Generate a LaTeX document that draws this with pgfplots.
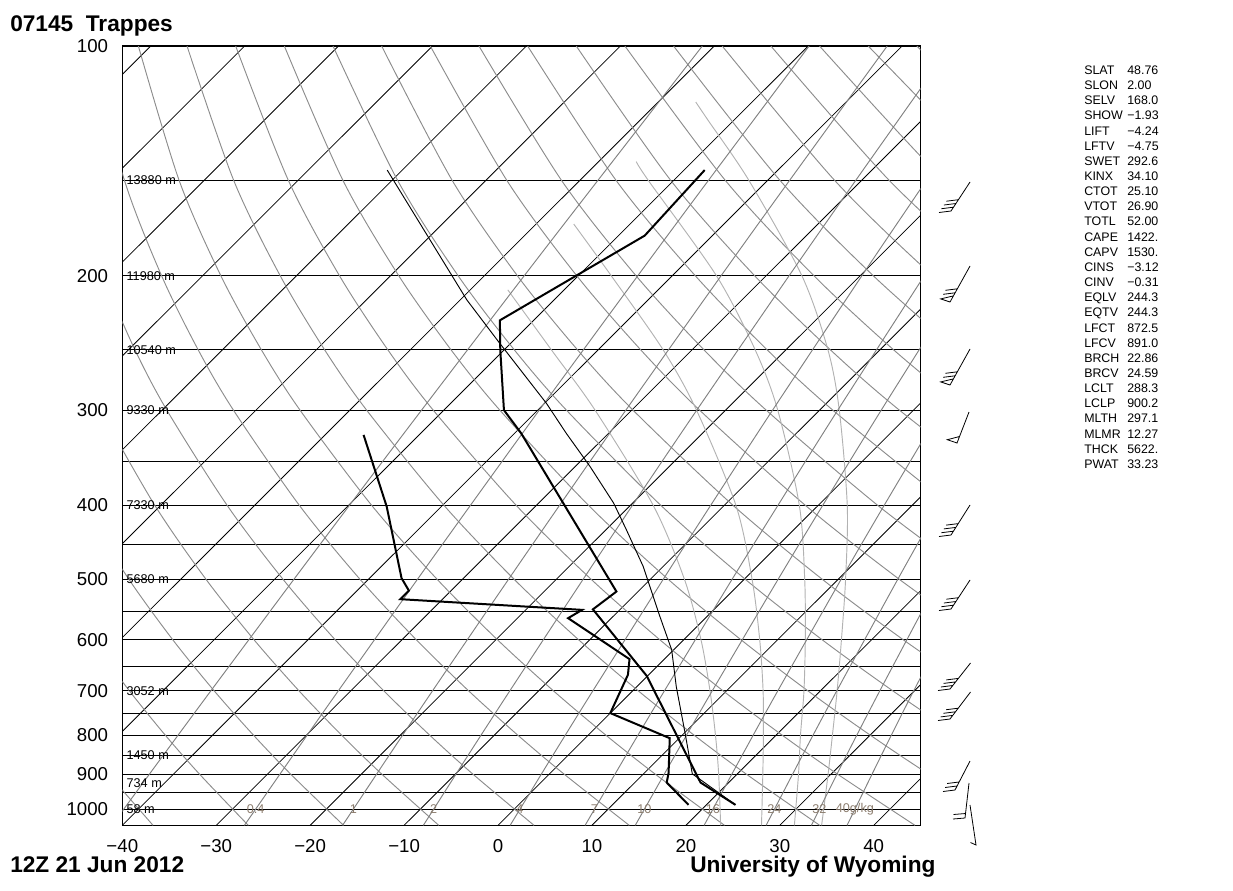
\documentclass[border=0pt]{standalone}
\usepackage{pgfplots}
\pgfplotsset{compat=1.18}
\usepackage{pgfplotstable}
\usepackage{fontspec}
\setmainfont{Liberation Sans}

\definecolor{dryc}{RGB}{140,140,140}
\definecolor{moistc}{RGB}{178,178,178}
\definecolor{mixc}{RGB}{128,128,128}
\definecolor{lblc}{RGB}{140,125,110}

\tikzset{
  iso/.style={black, line width=0.6pt},
  dry/.style={dryc, line width=0.7pt, smooth},
  moist/.style={moistc, line width=0.7pt, smooth},
  mix/.style={mixc, line width=0.7pt, smooth},
  trace/.style={black, line width=1.5pt},
  parcel/.style={black, line width=0.7pt},
  barb/.style={black, line width=0.6pt},
  hl/.style={anchor=west, inner sep=0pt, font=\fontsize{9.5}{11}\selectfont},
  mrl/.style={anchor=center, inner sep=0pt, text=lblc, font=\fontsize{9.5}{11}\selectfont},
  st/.style={anchor=base west, inner sep=0pt, font=\fontsize{9.3}{11}\selectfont},
  big/.style={anchor=base west, inner sep=0pt, font=\bfseries\fontsize{17}{20}\selectfont},
}

% temperature (hPa, degC)
\pgfplotstableread{
p T
145.4 -47.8
177.2 -47.2
228.8 -53.6
250.2 -50.4
300.0 -43.6
321.7 -39.3
518.6 -12.3
547.3 -12.9
668.8 -0.1
922.8 17.0
987.1 23.1
}\temptab

% dew point
\pgfplotstableread{
p T
323.3 -55.9
401.4 -45.8
498.1 -36.6
517.1 -34.5
530.7 -34.5
548.1 -14.0
562.0 -14.6
636.0 -3.7
666.8 -2.2
748.4 0.0
807.3 9.0
897.0 12.6
922.8 13.4
987.1 18.1
}\dewtab

% lifted parcel
\pgfplotstableread{
p T
145.4 -81.6
215.1 -59.3
244.3 -51.4
293.9 -39.8
321.7 -34.5
355.8 -28.4
397.3 -22.0
430.6 -17.8
481.0 -12.1
559.3 -5.0
618.4 -0.2
690.9 4.2
795.2 10.1
898.9 15.2
987.1 23.1
}\parceltab

\begin{document}
\begin{tikzpicture}
\useasboundingbox (0,0) rectangle (924.75pt,-668.25pt);

\begin{axis}[
  at={(91.725pt,-618.975pt)}, anchor=south west,
  scale only axis, width=598.8pt, height=584.475pt,
  xmin=-40, xmax=45, ymin=100, ymax=1050,
  ymode=log, y dir=reverse, enlargelimits=false,
  no markers,
  xtick={-40,-30,-20,-10,0,10,20,30,40},
  xticklabels={−40,−30,−20,−10,0,10,20,30,40},
  ytick={100,200,300,400,500,600,700,800,900,1000},
  yticklabels={100,200,300,400,500,600,700,800,900,1000},
  minor ytick={150,250,350,450,550,650,750,850,950},
  ymajorgrids, yminorgrids,
  major grid style={black, line width=0.7pt},
  minor grid style={black, line width=0.7pt},
  major tick length=0pt, minor tick length=0pt,
  tick label style={font=\fontsize{14}{16}\selectfont},
  yticklabel style={anchor=east, inner sep=0pt, xshift=-10.5pt},
  xticklabel style={anchor=center, inner sep=0pt, yshift=-15.5pt},
  axis line style={line width=1pt},
]
% isotherms, every 10 degC
\addplot[iso] coordinates {(-120,1050) (-36.98,100)};
\addplot[iso] coordinates {(-110,1050) (-26.98,100)};
\addplot[iso] coordinates {(-100,1050) (-16.98,100)};
\addplot[iso] coordinates {(-90,1050) (-6.98,100)};
\addplot[iso] coordinates {(-80,1050) (3.02,100)};
\addplot[iso] coordinates {(-70,1050) (13.02,100)};
\addplot[iso] coordinates {(-60,1050) (23.02,100)};
\addplot[iso] coordinates {(-50,1050) (33.02,100)};
\addplot[iso] coordinates {(-40,1050) (43.02,100)};
\addplot[iso] coordinates {(-30,1050) (53.02,100)};
\addplot[iso] coordinates {(-20,1050) (63.02,100)};
\addplot[iso] coordinates {(-10,1050) (73.02,100)};
\addplot[iso] coordinates {(0,1050) (83.02,100)};
\addplot[iso] coordinates {(10,1050) (93.02,100)};
\addplot[iso] coordinates {(20,1050) (103.02,100)};
\addplot[iso] coordinates {(30,1050) (113.02,100)};
\addplot[iso] coordinates {(40,1050) (123.02,100)};

% dry adiabats
\addplot[dry] coordinates {(-36.73,1050) (-41.47,900)};
\addplot[dry] coordinates {(-26.59,1050) (-31.77,900) (-35.42,800) (-39.24,700) (-43.26,600)};
\addplot[dry] coordinates {(-16.45,1050) (-22.06,900) (-26.03,800) (-30.21,700) (-34.62,600) (-39.29,500) (-44.23,400)};
\addplot[dry] coordinates {(-6.31,1050) (-12.36,900) (-16.65,800) (-21.18,700) (-25.97,600) (-31.08,500) (-36.53,400) (-42.35,300)};
\addplot[dry] coordinates {(3.83,1050) (-2.66,900) (-7.27,800) (-12.15,700) (-17.33,600) (-22.88,500) (-28.83,400) (-35.26,300) (-38.66,250) (-42.14,200)};
\addplot[dry] coordinates {(13.97,1050) (7.05,900) (2.11,800) (-3.12,700) (-8.69,600) (-14.68,500) (-21.14,400) (-28.17,300) (-31.93,250) (-35.82,200) (-39.77,150) (-43.47,100)};
\addplot[dry] coordinates {(24.11,1050) (16.75,900) (11.49,800) (5.91,700) (-0.05,600) (-6.47,500) (-13.44,400) (-21.08,300) (-25.20,250) (-29.51,200) (-33.95,150) (-38.29,100)};
\addplot[dry] coordinates {(34.25,1050) (26.45,900) (20.88,800) (14.94,700) (8.59,600) (1.73,500) (-5.74,400) (-13.99,300) (-18.47,250) (-23.19,200) (-28.14,150) (-33.11,100)};
\addplot[dry] coordinates {(44.39,1050) (36.16,900) (30.26,800) (23.97,700) (17.24,600) (9.93,500) (1.95,400) (-6.90,300) (-11.74,250) (-16.88,200) (-22.32,150) (-27.93,100)};
\addplot[dry] coordinates {(54.53,1050) (45.86,900) (39.64,800) (33.00,700) (25.88,600) (18.13,500) (9.65,400) (0.19,300) (-5.01,250) (-10.57,200) (-16.51,150) (-22.75,100)};
\addplot[dry] coordinates {(55.57,900) (49.02,800) (42.04,700) (34.52,600) (26.34,500) (17.35,400) (7.28,300) (1.72,250) (-4.25,200) (-10.69,150) (-17.57,100)};
\addplot[dry] coordinates {(51.07,700) (43.16,600) (34.54,500) (25.04,400) (14.37,300) (8.45,250) (2.06,200) (-4.88,150) (-12.39,100)};
\addplot[dry] coordinates {(51.80,600) (42.74,500) (32.74,400) (21.46,300) (15.18,250) (8.38,200) (0.94,150) (-7.21,100)};
\addplot[dry] coordinates {(50.95,500) (40.44,400) (28.55,300) (21.91,250) (14.69,200) (6.76,150) (-2.03,100)};
\addplot[dry] coordinates {(48.14,400) (35.64,300) (28.64,250) (21.00,200) (12.57,150) (3.15,100)};
\addplot[dry] coordinates {(55.83,400) (42.73,300) (35.37,250) (27.32,200) (18.39,150) (8.33,100)};
\addplot[dry] coordinates {(49.82,300) (42.10,250) (33.63,200) (24.20,150) (13.51,100)};
\addplot[dry] coordinates {(48.83,250) (39.95,200) (30.02,150) (18.69,100)};
\addplot[dry] coordinates {(55.56,250) (46.26,200) (35.84,150) (23.87,100)};
\addplot[dry] coordinates {(52.57,200) (41.65,150) (29.05,100)};
\addplot[dry] coordinates {(58.88,200) (47.47,150) (34.23,100)};
\addplot[dry] coordinates {(53.29,150) (39.41,100)};
\addplot[dry] coordinates {(59.10,150) (44.59,100)};

% moist adiabats
\addplot[moist] coordinates {(23.70,1050) (23.49,900) (23.15,800) (22.57,700) (21.61,600) (19.85,500) (16.53,400) (10.33,300) (5.67,250) (1.04,208.7)};
\addplot[moist] coordinates {(28.05,1050) (28.19,900) (28.25,800) (28.22,700) (27.86,600) (27.05,500) (25.33,400) (21.13,300) (17.57,250) (12.05,200) (8.06,171.1)};
\addplot[moist] coordinates {(31.55,1050) (31.99,900) (32.20,800) (32.57,700) (32.71,600) (32.65,500) (32.08,400) (29.78,300) (27.37,250) (23.25,200) (16.00,150) (14.71,141.7)};
\addplot[moist] coordinates {(34.45,1050) (35.14,900) (35.60,800) (36.10,700) (36.56,600) (37.00,500) (37.18,400) (36.33,300) (35.12,250) (32.35,200) (26.71,150) (22.34,125) (21.05,118.4)};

% saturation mixing ratio lines
\addplot[mix] coordinates {(-41.11,1050) (-35.64,850) (-30.58,700) (-21.74,500) (-15.83,400) (-8.14,300) (2.79,200) (10.63,150) (21.75,100)};
\addplot[mix] coordinates {(-27.00,1050) (-21.82,850) (-17.01,700) (-8.59,500) (-2.95,400) (4.39,300) (14.88,200) (22.40,150) (33.12,100)};
\addplot[mix] coordinates {(-16.55,1050) (-11.59,850) (-6.98,700) (1.11,500) (6.54,400) (13.61,300) (23.75,200) (31.04,150) (41.43,100)};
\addplot[mix] coordinates {(-7.95,1050) (-3.19,850) (1.25,700) (9.05,500) (14.30,400) (21.16,300) (30.99,200) (38.08,150) (48.20,100)};
\addplot[mix] coordinates {(1.29,1050) (5.84,850) (10.09,700) (17.58,500) (22.63,400) (29.23,300) (38.74,200) (45.60,150)};
\addplot[mix] coordinates {(9.27,1050) (13.63,850) (17.71,700) (24.91,500) (29.79,400) (36.17,300) (45.38,200)};
\addplot[mix] coordinates {(14.61,1050) (18.84,850) (22.80,700) (29.81,500) (34.56,400) (40.80,300) (49.81,200)};
\addplot[mix] coordinates {(21.94,1050) (25.99,850) (29.78,700) (36.52,500) (41.10,400) (47.13,300)};
\addplot[mix] coordinates {(28.54,1050) (32.41,850) (36.06,700) (42.55,500) (46.97,400)};
\addplot[mix] coordinates {(33.36,1050) (37.10,850) (40.64,700) (46.94,500)};
\addplot[mix] coordinates {(37.16,1050) (40.81,850) (44.25,700) (50.41,500)};

% sounding
\addplot[parcel] table[x expr={\thisrow{T}+35.308*ln(1050/\thisrow{p})}, y=p] {\parceltab};
\addplot[trace] table[x expr={\thisrow{T}+35.308*ln(1050/\thisrow{p})}, y=p] {\dewtab};
\addplot[trace] table[x expr={\thisrow{T}+35.308*ln(1050/\thisrow{p})}, y=p] {\temptab};

% heights of the standard levels
\node[hl] at (axis cs:-39.57,150) {13880 m};
\node[hl] at (axis cs:-39.57,200) {11980 m};
\node[hl] at (axis cs:-39.57,250) {10540 m};
\node[hl] at (axis cs:-39.57,300) {9330 m};
\node[hl] at (axis cs:-39.57,400) {7330 m};
\node[hl] at (axis cs:-39.57,500) {5680 m};
\node[hl] at (axis cs:-39.57,700) {3052 m};
\node[hl] at (axis cs:-39.57,850) {1450 m};
\node[hl] at (axis cs:-39.57,925) {734 m};
\node[hl] at (axis cs:-39.57,1000) {58 m};

% mixing ratio labels
\node[mrl] at (axis cs:-25.81,1000) {0.4};
\node[mrl] at (axis cs:-15.41,1000) {1};
\node[mrl] at (axis cs:-6.86,1000) {2};
\node[mrl] at (axis cs:2.34,1000) {4};
\node[mrl] at (axis cs:10.27,1000) {7};
\node[mrl] at (axis cs:15.58,1000) {10};
\node[mrl] at (axis cs:22.87,1000) {16};
\node[mrl] at (axis cs:29.42,1000) {24};
\node[mrl] at (axis cs:34.21,1000) {32};
\node[mrl] at (axis cs:37.99,1000) {40g/kg};
\end{axis}

% wind barbs, in pixel units of the page
\begin{axis}[
  at={(0pt,0pt)}, anchor=north west,
  scale only axis, width=924.75pt, height=668.25pt,
  xmin=0, xmax=1233, ymin=0, ymax=891, y dir=reverse,
  hide axis, clip=false, no markers, unbounded coords=jump,
]
\addplot[barb] coordinates {(970,182) (951,211) (939,212.5) (nan,nan) (953.4,207.2) (941.4,208.7) (nan,nan) (955.9,203.5) (943.9,205) (nan,nan) (958.3,199.7) (946.3,201.2)};
\addplot[barb] coordinates {(970,266) (950,302) (940.7,298.9) (953.4,295.9) (nan,nan) (955.1,292.8) (943.1,294.3) (nan,nan) (957.3,288.8) (945.3,290.3)};
\addplot[barb] coordinates {(970,349) (950,385) (940.7,381.9) (953.4,378.9) (nan,nan) (955.1,375.8) (943.1,377.3) (nan,nan) (957.3,371.8) (945.3,373.3)};
\addplot[barb] coordinates {(969,412) (957,443) (947.3,439.7) (959.5,436.5)};
\addplot[barb] coordinates {(970,505) (951,535) (939,536.5) (nan,nan) (953.4,531.2) (941.4,532.7) (nan,nan) (955.8,527.4) (943.8,528.9) (nan,nan) (958.2,523.6) (946.2,525.1)};
\addplot[barb] coordinates {(970,580) (951,609) (939,610.5) (nan,nan) (953.4,605.2) (941.4,606.7) (nan,nan) (955.9,601.5) (943.9,603) (nan,nan) (958.3,597.7) (946.3,599.2)};
\addplot[barb] coordinates {(970.5,663) (950,689) (938,690.5) (nan,nan) (952.8,685.5) (940.8,687) (nan,nan) (955.6,681.9) (943.6,683.4) (nan,nan) (958.3,678.4) (946.3,679.9)};
\addplot[barb] coordinates {(970.5,692) (950,719) (938,720.5) (nan,nan) (952.7,715.4) (940.7,716.9) (nan,nan) (955.4,711.8) (943.4,713.3) (nan,nan) (958.2,708.2) (946.2,709.7)};
\addplot[barb] coordinates {(970,761) (955,790) (943,791.5) (nan,nan) (957.1,786) (945.1,787.5) (nan,nan) (959.1,782) (947.1,783.5)};
\addplot[barb] coordinates {(969,783) (965,818) (953,819) (nan,nan) (965.5,813.5) (953.5,814.5)};
\addplot[barb] coordinates {(970,805) (976,845) (970.5,842.5)};
\end{axis}

% titles
\node[big] at (7.5pt,-24pt) {07145~~Trappes};
\node[big] at (7.5pt,-654pt) {12Z 21 Jun 2012};
\node[big] at (517.5pt,-654pt) {University of Wyoming};

% station indices
\foreach \lab/\val [count=\i from 0] in {SLAT/48.76, SLON/2.00, SELV/168.0, SHOW/−1.93, LIFT/−4.24, LFTV/−4.75, SWET/292.6, KINX/34.10, CTOT/25.10, VTOT/26.90, TOTL/52.00, CAPE/1422., CAPV/1530., CINS/−3.12, CINV/−0.31, EQLV/244.3, EQTV/244.3, LFCT/872.5, LFCV/891.0, BRCH/22.86, BRCV/24.59, LCLT/288.3, LCLP/900.2, MLTH/297.1, MLMR/12.27, THCK/5622., PWAT/33.23} {
  \pgfmathsetmacro\yy{-0.75*(74.5+15.15*\i)}
  \node[st] at (813pt,\yy pt) {\lab};
  \node[st] at (845.25pt,\yy pt) {\val};
}
\end{tikzpicture}
\end{document}
